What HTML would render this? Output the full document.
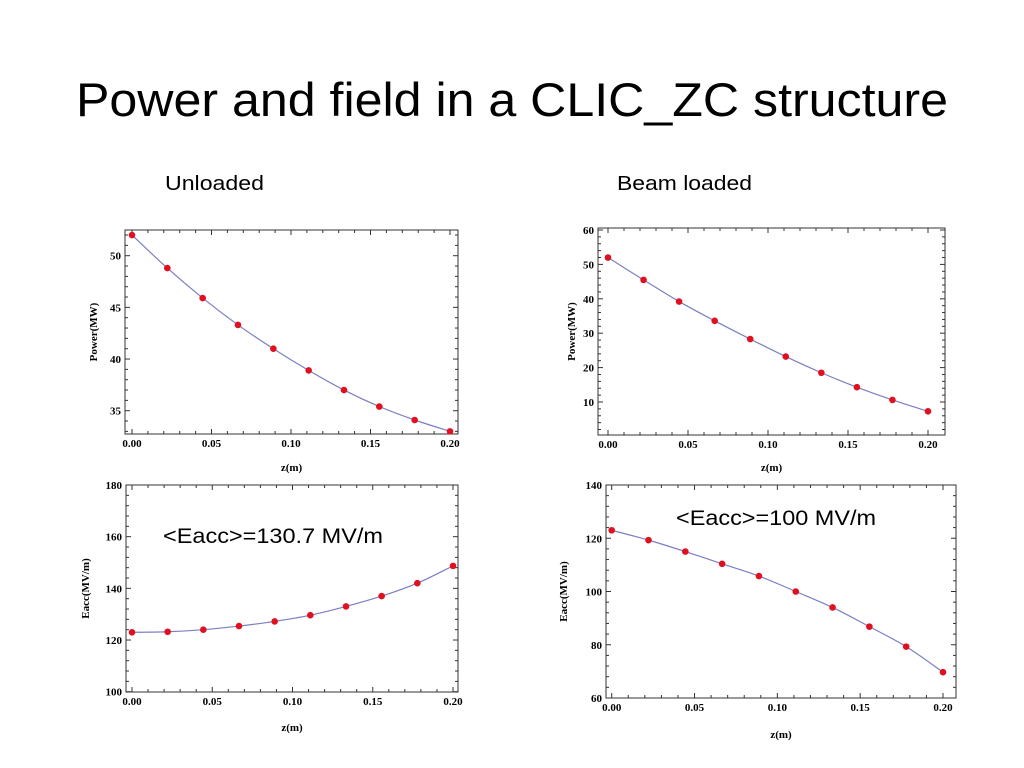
<!DOCTYPE html>
<html><head><meta charset="utf-8"><style>
html,body{margin:0;padding:0;background:#fff;}
svg{display:block;}
</style></head><body>
<svg id="s" width="1024" height="768" xmlns="http://www.w3.org/2000/svg">
<rect width="1024" height="768" fill="#fff"/>
<text x="76" y="116" font-family="Liberation Sans, sans-serif" font-size="47" textLength="872" lengthAdjust="spacingAndGlyphs" fill="#000">Power and field in a CLIC_ZC structure</text>
<text x="165" y="190" font-family="Liberation Sans, sans-serif" font-size="20" textLength="99" lengthAdjust="spacingAndGlyphs">Unloaded</text>
<text x="617" y="190" font-family="Liberation Sans, sans-serif" font-size="20" textLength="135" lengthAdjust="spacingAndGlyphs">Beam loaded</text>
<text x="163" y="543" font-family="Liberation Sans, sans-serif" font-size="21" textLength="220" lengthAdjust="spacingAndGlyphs">&lt;Eacc&gt;=130.7  MV/m</text>
<text x="676" y="525" font-family="Liberation Sans, sans-serif" font-size="21" textLength="200" lengthAdjust="spacingAndGlyphs">&lt;Eacc&gt;=100  MV/m</text>
<g id="g"></g>
</svg>
<script>
var g=document.getElementById('g'),h='';
function P(o){
 var sx=(o.x1-o.x0)/0.2, sy=(o.yb[1]-o.ya[1])/(o.yb[0]-o.ya[0]);
 function X(z){return o.x0+z*sx;} function Y(v){return o.ya[1]+(v-o.ya[0])*sy;}
 h+='<rect x="'+o.L+'" y="'+o.T+'" width="'+(o.R-o.L)+'" height="'+(o.B-o.T)+'" fill="none" stroke="#333" stroke-width="1"/>';
 for(var k=0;k<=20;k++){var z=k*0.01,x=X(z);if(x<o.L||x>o.R)continue;var len=(k%5==0)?5:3;
  h+='<line x1="'+x+'" y1="'+o.B+'" x2="'+x+'" y2="'+(o.B-len)+'" stroke="#333"/><line x1="'+x+'" y1="'+o.T+'" x2="'+x+'" y2="'+(o.T+len)+'" stroke="#333"/>';
  if(k%5==0)h+='<text x="'+x+'" y="'+(o.B+13)+'" text-anchor="middle" font-family="Liberation Serif,serif" font-weight="bold" font-size="11">'+z.toFixed(2)+'</text>';}
 var n=Math.round((o.ymax-o.ymin)/o.ms);
 for(var j=0;j<=n;j++){var v=o.ymin+j*o.ms;var y=Y(v);if(y<o.T-0.5||y>o.B+0.5)continue;var maj=Math.abs(Math.round(v/o.mj)*o.mj-v)<1e-6;var len=maj?5:3;
  h+='<line x1="'+o.L+'" y1="'+y+'" x2="'+(o.L+len)+'" y2="'+y+'" stroke="#333"/><line x1="'+o.R+'" y1="'+y+'" x2="'+(o.R-len)+'" y2="'+y+'" stroke="#333"/>';
  if(maj)h+='<text x="'+(o.L-4)+'" y="'+(y+4)+'" text-anchor="end" font-family="Liberation Serif,serif" font-weight="bold" font-size="11">'+Math.round(v)+'</text>';}
 var pts=o.d.map(function(v,i){return [X(i*0.2/9),Y(v)];});
 var path='M'+pts[0][0]+','+pts[0][1];
 for(var i=0;i<pts.length-1;i++){var p0=pts[i-1]||pts[i],p1=pts[i],p2=pts[i+1],p3=pts[i+2]||p2;
  path+=' C'+(p1[0]+(p2[0]-p0[0])/6)+','+(p1[1]+(p2[1]-p0[1])/6)+' '+(p2[0]-(p3[0]-p1[0])/6)+','+(p2[1]-(p3[1]-p1[1])/6)+' '+p2[0]+','+p2[1];}
 h+='<path d="'+path+'" fill="none" stroke="#7b7fc4" stroke-width="1.2"/>';
 pts.forEach(function(p){h+='<circle cx="'+p[0]+'" cy="'+p[1]+'" r="3.3" fill="#e0101e"/>';});
 var cx=(o.L+o.R)/2;
 h+='<text x="'+cx+'" y="'+o.xl+'" text-anchor="middle" font-family="Liberation Serif,serif" font-weight="bold" font-size="11">z(m)</text>';
 var cy=(o.T+o.B)/2;
 h+='<text transform="translate('+o.yl+','+cy+') rotate(-90)" text-anchor="middle" font-family="Liberation Serif,serif" font-weight="bold" font-size="11">'+o.lab+'</text>';
}
P({L:125,R:458,T:230,B:434,x0:132,x1:450,ya:[50,255.7],yb:[35,410.7],ymin:33,ymax:53,ms:1,mj:5,
 d:[52,48.8,45.9,43.3,41.0,38.9,37.0,35.4,34.1,33.0],xl:471,yl:97,lab:'Power(MW)'});
P({L:598,R:945,T:228,B:435,x0:608,x1:928,ya:[60,230],yb:[10,402],ymin:0,ymax:60,ms:2,mj:10,
 d:[52,45.5,39.2,33.6,28.3,23.2,18.5,14.3,10.6,7.3],xl:471,yl:575,lab:'Power(MW)'});
P({L:126,R:458,T:485,B:692,x0:132,x1:453,ya:[180,485],yb:[100,691.7],ymin:100,ymax:180,ms:4,mj:20,
 d:[123,123.2,124,125.4,127.2,129.6,133,137,142,148.7],xl:731,yl:89,lab:'Eacc(MV/m)'});
P({L:606,R:956,T:485,B:698,x0:611.7,x1:943,ya:[140,485],yb:[60,698],ymin:60,ymax:140,ms:4,mj:20,
 d:[123,119.3,115,110.4,105.8,100,94,86.8,79.3,69.7],xl:738,yl:567,lab:'Eacc(MV/m)'});
g.innerHTML=h;
</script>
</body></html>
